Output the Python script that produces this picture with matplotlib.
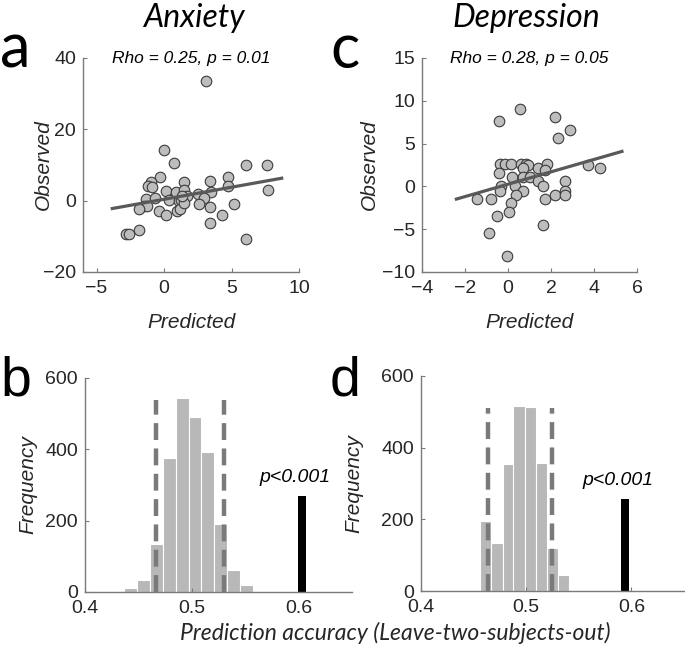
import numpy as np
import matplotlib.pyplot as plt

# ---- scatter data ----
anx_pred = [3.09, 0.0, 0.74, 6.05, 7.6, 7.7, -0.3, -1.0, -1.2, -0.86, 1.48, 3.38, 4.77, 4.77,
            3.5, 0.15, 0.86, 1.48, 1.73, 2.5, 2.96, -1.36, -0.67, 0.37, 1.1, 1.28, -1.48, -1.28,
            -1.85, -0.37, 0.12, 0.99, 1.19, 2.6, 3.38, 5.19, 4.27, 3.38, 6.05, -1.85, -2.84,
            -2.6, 1.48, 1.36]
anx_obs = [33.6, 14.2, 10.6, 10.1, 10.1, 3.1, 6.7, 5.1, 4.0, 3.7, 5.1, 5.6, 6.7, 4.2,
           2.5, 2.6, 2.3, 3.1, 1.4, 1.9, 0.7, 0.5, 0.7, 0.3, -0.2, 0.3, -1.4, -1.6,
           -2.3, -3.0, -3.9, -3.0, -2.3, -0.9, -1.9, -0.9, -3.9, -6.4, -10.8, -8.1, -9.4,
           -9.4, -0.6, 1.2]
dep_pred = [0.54, -0.42, 2.17, 2.87, 2.33, -0.39, -0.16, 0.12, 0.62, 0.85, 0.93, 0.7, 1.4,
            1.83, 1.7, 3.72, 4.26, -0.42, 0.2, 0.7, 1.0, 1.4, -0.31, 0.31, 1.63, 2.67, 2.67,
            -0.39, 0.7, 0.39, -1.43, -0.78, 1.74, 2.2, 2.64, 0.12, 0.03, -0.5, 1.63, -0.88, -0.03]
dep_obs = [9.1, 7.6, 8.1, 6.6, 5.6, 2.6, 2.6, 2.6, 2.6, 2.6, 2.5, 2.2, 2.1,
           2.6, 1.9, 2.5, 2.1, 1.6, 1.1, 1.1, 1.1, 0.6, 0.1, 0.1, 0.1, 0.6, -0.5,
           -0.5, -0.5, -1.0, -1.5, -1.5, -1.5, -1.0, -1.0, -1.9, -3.0, -3.5, -4.5, -5.5, -8.1]

# least-squares lines: slope, intercept, x extent
anx_fit = (0.677, 0.39, -3.83, 8.72)
dep_fit = (0.723, 0.255, -2.4, 5.3)
anx_stat = 'Rho = 0.25, p = 0.01'
dep_stat = 'Rho = 0.28, p = 0.05'

# ---- permutation histograms ----
anx_bins = [0.4425, 0.4546, 0.4667, 0.4788, 0.4909, 0.5030, 0.5151, 0.5272, 0.5393, 0.5512]
anx_counts = [10, 34, 135, 375, 543, 492, 392, 190, 61, 21]
anx_ci = [0.4667, 0.5305]
anx_true, anx_true_n = 0.6033, 269

dep_bins = [0.4510, 0.4616, 0.4722, 0.4828, 0.4931, 0.5038, 0.5144, 0.5250, 0.5357, 0.5465]
dep_counts = [4, 195, 135, 355, 517, 513, 357, 119, 46, 3]
dep_ci = [0.4633, 0.5244]
dep_true, dep_true_n = 0.594, 256

W, H = 685, 652
fig = plt.figure(figsize=(W / 100, H / 100), dpi=100)
plt.rcParams['font.family'] = 'Liberation Sans'

AX_COL = '#7a7a7a'
TICK_COL = '#262626'


def px_axes(x0, y0, x1, y1):
    return fig.add_axes([x0 / W, 1 - y1 / H, (x1 - x0) / W, (y1 - y0) / H])


def style(ax):
    for s in ['top', 'right']:
        ax.spines[s].set_visible(False)
    for s in ['left', 'bottom']:
        ax.spines[s].set_color(AX_COL)
        ax.spines[s].set_linewidth(1.0)
    ax.tick_params(direction='in', length=3, width=0.8, color=AX_COL,
                   labelsize=14, labelcolor=TICK_COL)
    ax.tick_params(axis='x', pad=6)
    ax.tick_params(axis='y', pad=5)


def scatter_panel(ax, xs, ys, fit, stat, xlim, ylim, xt, yt, ylab_x):
    ax.plot(xs, ys, 'o', ms=7.6, mfc='#bdbdbd', mec='#3a3a3a', mew=0.8, zorder=2)
    k, b, xa, xb = fit
    lx = np.array([xa, xb])
    ax.plot(lx, k * lx + b, color='#595959', lw=2.3, zorder=3)
    ax.set_xlim(xlim)
    ax.set_ylim(ylim)
    ax.set_xticks(xt)
    ax.set_yticks(yt)
    style(ax)
    ax.set_xlabel('Predicted', fontsize=15, style='italic', color=TICK_COL, labelpad=11)
    ax.set_ylabel('Observed', fontsize=15, style='italic', color=TICK_COL)
    ax.yaxis.set_label_coords(ylab_x, 0.5)
    ax.text(0.5, 1.0, stat, transform=ax.transAxes, ha='center', va='center',
            fontsize=12.5, style='italic', color='black')


def hist_panel(ax, bins, counts, ci, true_x, true_n, ylab_x):
    width = bins[1] - bins[0]
    ax.bar(bins, counts, width=width, color='#b8b8b8', edgecolor='white', lw=0.8, zorder=1)
    top = max(counts) - 5
    for c in ci:
        ax.plot([c, c], [0, top], color='#7a7a7a', lw=3.2, dashes=(3.8, 1.9), zorder=3)
    ax.bar([true_x], [true_n], width=0.0076, color='black', zorder=2)
    ax.text(true_x - 0.007, true_n + 28, 'p<0.001', ha='center', va='bottom',
            fontsize=14, style='italic', color='black')
    ax.set_xlim(0.4, 0.65)
    ax.set_ylim(0, 600)
    ax.set_xticks([0.4, 0.5, 0.6])
    ax.set_xticklabels(['0.4', '0.5', '0.6'])
    ax.set_yticks([0, 200, 400, 600])
    style(ax)
    ax.set_ylabel('Frequency', fontsize=15, style='italic', color=TICK_COL)
    ax.yaxis.set_label_coords(ylab_x, 0.5)


ax_a = px_axes(83, 58, 299, 272)
scatter_panel(ax_a, anx_pred, anx_obs, anx_fit, anx_stat, (-6, 10), (-20, 40),
              [-5, 0, 5, 10], [-20, 0, 20, 40], -0.14)
ax_c = px_axes(422, 58, 637, 272)
scatter_panel(ax_c, dep_pred, dep_obs, dep_fit, dep_stat, (-4, 6), (-10, 15),
              [-4, -2, 0, 2, 4, 6], [-10, -5, 0, 5, 10, 15], -0.2)

ax_b = px_axes(85, 378, 352, 592)
hist_panel(ax_b, anx_bins, anx_counts, anx_ci, anx_true, anx_true_n, -0.18)
ax_d = px_axes(421, 376, 684, 591)
hist_panel(ax_d, dep_bins, dep_counts, dep_ci, dep_true, dep_true_n, -0.22)

# titles and panel letters
fig.text(194 / W, 1 - 18 / H, 'Anxiety', ha='center', va='center', fontsize=23,
         style='italic', family='Lato')
fig.text(526 / W, 1 - 18 / H, 'Depression', ha='center', va='center', fontsize=23,
         style='italic', family='Lato')
fig.text(0 / W, 1 - 68 / H, 'a', ha='left', va='baseline', fontsize=44, family='Lato')
fig.text(330 / W, 1 - 68 / H, 'c', ha='left', va='baseline', fontsize=44, family='Lato')
fig.text(0 / W, 1 - 395 / H, 'b', ha='left', va='baseline', fontsize=40)
fig.text(330 / W, 1 - 395 / H, 'd', ha='left', va='baseline', fontsize=40)
fig.text(395 / W, 1 - 633 / H, 'Prediction accuracy (Leave-two-subjects-out)', ha='center',
         va='center', fontsize=16.5, style='italic', family='Lato', color=TICK_COL)

fig.savefig('out.png', dpi=100)
